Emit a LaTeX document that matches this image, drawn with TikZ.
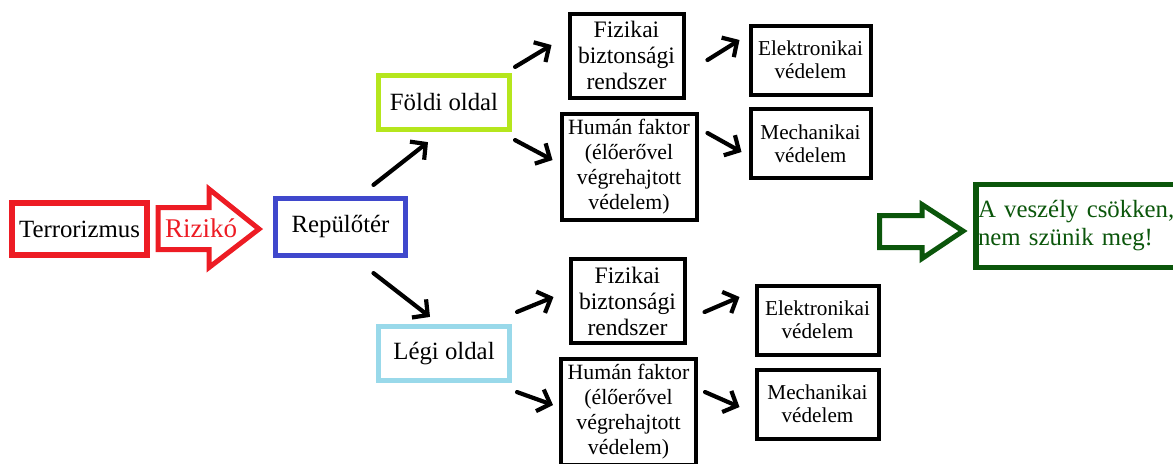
\documentclass[tikz,border=0pt]{standalone}
\usepackage{fontspec}
\setmainfont{Liberation Serif}
\usepackage{tikz}
\usetikzlibrary{arrows.meta}
\definecolor{riskred}{HTML}{ED1C24}
\definecolor{portblue}{HTML}{3F48CC}
\definecolor{groundlime}{HTML}{B5E61D}
\definecolor{airblue}{HTML}{99D9EA}
\definecolor{deepgreen}{HTML}{0B560B}
\tikzset{
    every picture/.style={line join=miter},
    colorbox/.style={draw,line width=2.6pt,inner sep=1pt,align=center,
      font=\fontsize{12.4}{14}\selectfont},
    sidebox/.style={colorbox,minimum width=65.5pt,minimum height=27pt},
    systembox/.style={draw=black,line width=2pt,inner sep=1pt,align=center,
      minimum width=57pt,minimum height=42pt,font=\fontsize{11.8}{13}\selectfont},
    humanbox/.style={draw=black,line width=2pt,inner sep=1pt,align=center,
      minimum width=67.5pt,minimum height=53pt,font=\fontsize{10.9}{12.5}\selectfont},
    leafbox/.style={draw=black,line width=2pt,inner sep=1pt,align=center,
      minimum width=60pt,minimum height=34.5pt,font=\fontsize{10.6}{11.5}\selectfont},
    hollowarrow/.style={line width=2.5pt,line join=miter},
    flowarrow/.style={-{Straight Barb[length=5.5pt,width=11.5pt]},draw=black,
      line width=2.1pt,line cap=round}
}

\begin{document}
\begin{tikzpicture}[x=0.5pt,y=-0.5pt]
  \useasboundingbox (0,0) rectangle (1173,463);

  % left part: threat, risk and the airport
  \node[colorbox,draw=riskred,minimum width=67.5pt,minimum height=26pt] (terror) at (79.5,229) {Terrorizmus};
  \draw[hollowarrow,riskred] (158,207.5) -- (209,207.5) -- (209,189) -- (259,229)
    -- (209,267.5) -- (209,249.5) -- (158,249.5) -- cycle;
  \node[text=riskred,font=\fontsize{13.5}{15}\selectfont] (riziko) at (201,228) {Rizikó};
  \node[colorbox,draw=portblue,minimum width=65pt,minimum height=28.5pt] (repter) at (340.5,227) {Repülőtér};

  % ground side and air side
  \node[sidebox,draw=groundlime] (foldi) at (444,102.5) {Földi oldal};
  \node[sidebox,draw=airblue] (legi) at (444,353.5) {Légi oldal};

  % ground side branch
  \node[systembox] (fiz1) at (626.5,55.5) {Fizikai\\biztonsági\\rendszer};
  \node[humanbox] (hum1) at (629,167) {Humán faktor\\(élőerővel\\végrehajtott\\védelem)};
  \node[leafbox] (elek1) at (810.5,60) {Elektronikai\\védelem};
  \node[leafbox] (mech1) at (810.5,143.5) {Mechanikai\\védelem};

  % air side branch
  \node[systembox] (fiz2) at (627.5,301) {Fizikai\\biztonsági\\rendszer};
  \node[humanbox] (hum2) at (628.5,412) {Humán faktor\\(élőerővel\\végrehajtott\\védelem)};
  \node[leafbox,minimum width=61pt] (elek2) at (817.5,320) {Elektronikai\\védelem};
  \node[leafbox,minimum width=61pt] (mech2) at (817.5,404) {Mechanikai\\védelem};

  % outcome
  \draw[hollowarrow,deepgreen] (879.5,215.5) -- (922,215.5) -- (922,204.5) -- (963,231)
    -- (922,258.5) -- (922,247.5) -- (879.5,247.5) -- cycle;
  \node[colorbox,draw=deepgreen,text=deepgreen,text width=100pt,align=left,
    inner xsep=1pt,minimum height=41.5pt] (csokken) at (1078,226)
    {A veszély csökken,\\nem szünik meg!};

  % arrows
  \draw[flowarrow] ([shift={(33,-11)}]repter.north) -- ([shift={(-16,10)}]foldi.south);
  \draw[flowarrow] ([shift={(33,15)}]repter.south) -- ([shift={(-14,-7)}]legi.north);
  \draw[flowarrow] ([shift={(3,-6)}]foldi.north east) -- ([shift={(-16,-10.5)}]fiz1.west);
  \draw[flowarrow] ([shift={(3,8)}]foldi.south east) -- ([shift={(-7,-7)}]hum1.west);
  \draw[flowarrow] ([shift={(22,4.5)}]fiz1.east) -- ([shift={(-9,-20)}]elek1.west);
  \draw[flowarrow] ([shift={(9,-34)}]hum1.east) -- ([shift={(-7,8.5)}]mech1.west);
  \draw[flowarrow] ([shift={(5,-12)}]legi.north east) -- ([shift={(-15,-4)}]fiz2.west);
  \draw[flowarrow] ([shift={(5,9)}]legi.south east) -- ([shift={(-6,-7)}]hum2.west);
  \draw[flowarrow] ([shift={(18,11)}]fiz2.east) -- ([shift={(-15,-23)}]elek2.west);
  \draw[flowarrow] ([shift={(7,-20)}]hum2.east) -- ([shift={(-15,3)}]mech2.west);
\end{tikzpicture}
\end{document}
